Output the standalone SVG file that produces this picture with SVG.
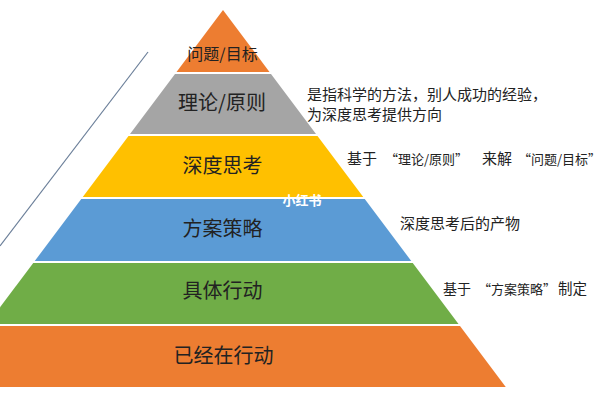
<svg xmlns="http://www.w3.org/2000/svg" width="600" height="400" viewBox="0 0 600 400">
<style>
.lbl{font-family:"Noto Sans CJK SC","Noto Sans",sans-serif;fill:#222;text-anchor:middle}
.note{font-family:"Noto Sans CJK SC","Noto Sans",sans-serif;fill:#222;font-size:15px}
.band{stroke:none}
</style>
<rect width="600" height="400" fill="#ffffff"/>
<g id="connectors">
<line x1="148" y1="52" x2="0" y2="246" stroke="#6b7f99" stroke-width="1.2"/>
</g>
<g id="n1">
<polygon class="band" points="223,10 269.5,72 176.5,72" fill="#ED7D31"/>
<text class="lbl" x="222.5" y="60" font-size="16">问题/目标</text>
</g>
<g id="n2">
<polygon class="band" points="175,74 271,74 316,134 130,134" fill="#A5A5A5"/>
<text class="lbl" x="222" y="110" font-size="20">理论/原则</text>
</g>
<g id="n3">
<polygon class="band" points="128.5,136 317.5,136 363.25,197 82.75,197" fill="#FFC000"/>
<text class="lbl" x="222.5" y="173" font-size="20">深度思考</text>
</g>
<g id="n4">
<polygon class="band" points="81.25,199 364.75,199 411.25,261 34.75,261" fill="#5B9BD5"/>
<text class="lbl" x="222.5" y="236" font-size="20">方案策略</text>
</g>
<g id="n5">
<polygon class="band" points="33.25,263 412.75,263 458.5,324 -12.5,324" fill="#70AD47"/>
<text class="lbl" x="222.5" y="298" font-size="20">具体行动</text>
</g>
<g id="n6">
<polygon class="band" points="-14,326 460,326 505.75,387 -59.75,387" fill="#ED7D31"/>
<text class="lbl" x="223.5" y="363" font-size="20">已经在行动</text>
</g>
<g id="notes">
<text class="note" x="307" y="100">是指科学的方法，别人成功的经验，</text>
<text class="note" x="307" y="120">为深度思考提供方向</text>
<text class="note" y="164"><tspan x="347">基于</tspan><tspan x="385" font-size="13">“理论/原则”</tspan><tspan x="482">来解</tspan><tspan x="518" font-size="13">“问题/目标”</tspan></text>
<text class="note" x="400" y="229">深度思考后的产物</text>
<text class="note" y="294"><tspan x="443" font-size="14">基于</tspan><tspan x="478" font-size="13">“方案策略”</tspan><tspan x="558" font-size="14.5">制定</tspan></text>
</g>
<text x="302" y="205" font-family="Noto Sans CJK SC, sans-serif" font-size="13" font-weight="bold" fill="#ffffff" text-anchor="middle">小红书</text>
</svg>
